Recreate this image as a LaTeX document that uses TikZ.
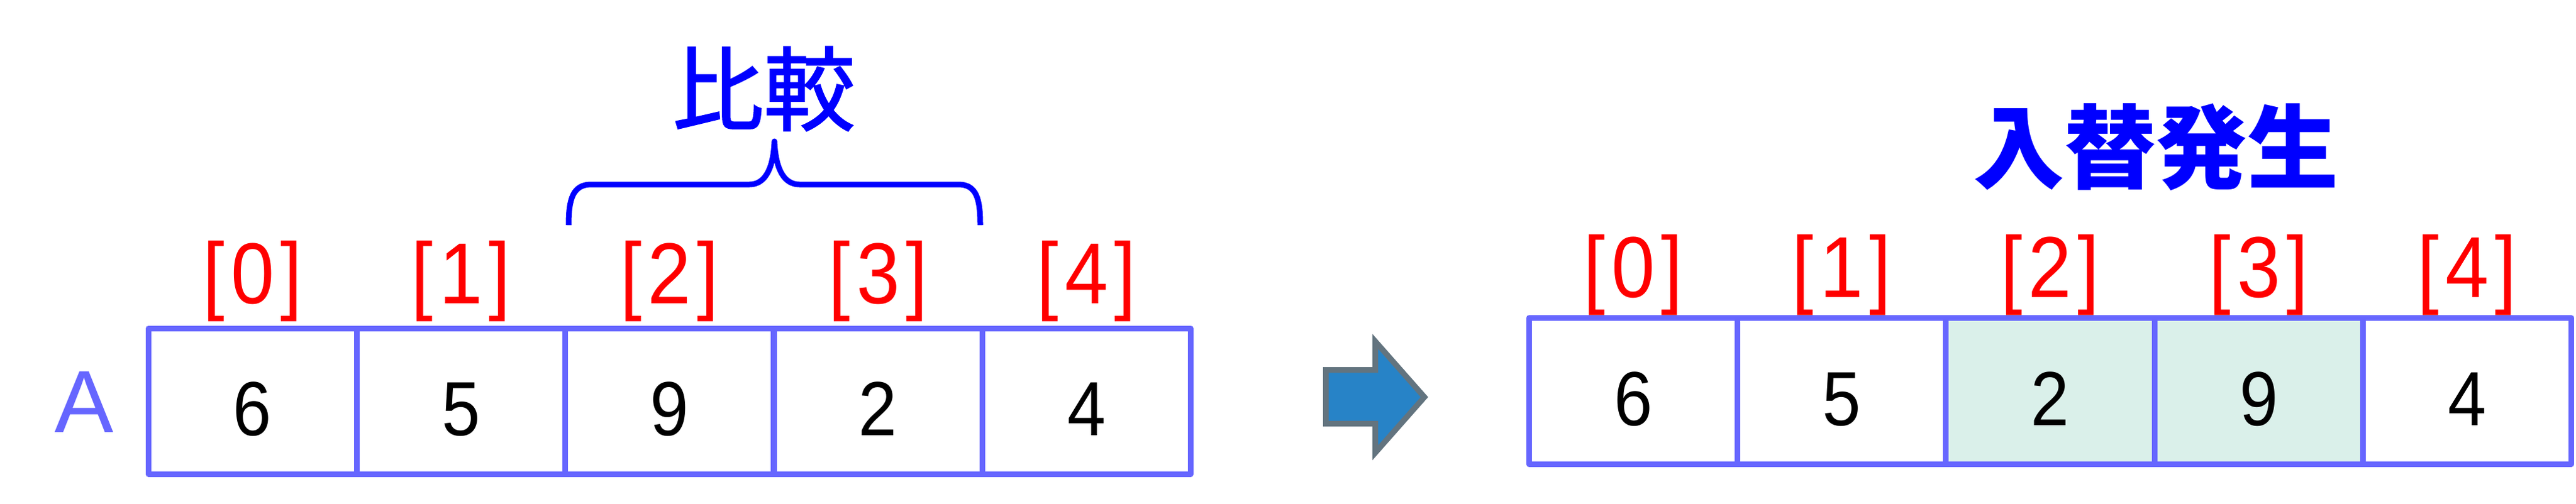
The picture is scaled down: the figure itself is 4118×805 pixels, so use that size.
\documentclass[tikz,border=0pt]{standalone}
\usepackage{fontspec}
\setmainfont{Liberation Sans}
\newfontfamily\digitfont[FakeStretch=0.9]{Liberation Sans}
\newfontfamily\jpfont{Noto Sans CJK JP}
\newfontfamily\jpmed[FakeBold=1.5]{Noto Sans CJK JP}
\definecolor{gridblue}{HTML}{6666FF}
\definecolor{swapgreen}{HTML}{DAF0EA}
\definecolor{arrowfill}{HTML}{2783C7}
\definecolor{arrowedge}{HTML}{63747F}
\tikzset{
  cell/.style={draw=gridblue, line width=2.25pt, minimum width=83.33pt, inner sep=0pt,
    text height=27.5pt, text depth=0pt, font=\digitfont\fontsize{30.7}{36}\selectfont, line join=round},
  swapcell/.style={cell, fill=swapgreen},
  idx/.style={text=red, anchor=base, inner sep=0pt, font=\digitfont\fontsize{34.6}{40}\selectfont},
  title/.style={text=blue, inner sep=0pt, font=\jpmed\fontsize{36.5}{44}\selectfont},
  bracestyle/.style={draw=blue, line width=2.25pt, line cap=butt, line join=round},
}
\begin{document}
\begin{tikzpicture}[x=0.25pt, y=-0.25pt]
\useasboundingbox (0,0) rectangle (4118,805);
% left array
\node[text=gridblue, anchor=base, inner sep=0pt, font=\fontsize{35.3}{42}\selectfont] (alabel) at (135,691) {A};
\begin{scope}[every node/.append style={minimum height=58.25pt}]
\node[cell] (l0) at (403.7,641.5) {6};
\node[cell] (l1) at (737,641.5) {5};
\node[cell] (l2) at (1070.3,641.5) {9};
\node[cell] (l3) at (1403.7,641.5) {2};
\node[cell] (l4) at (1737,641.5) {4};
\end{scope}
\node[idx] (li0) at (403.7,485) {[\kern2.5pt0\kern2.5pt]};
\node[idx] (li1) at (737,485) {[\kern2.5pt1\kern2.5pt]};
\node[idx] (li2) at (1070.3,485) {[\kern2.5pt2\kern2.5pt]};
\node[idx] (li3) at (1403.7,485) {[\kern2.5pt3\kern2.5pt]};
\node[idx] (li4) at (1737,485) {[\kern2.5pt4\kern2.5pt]};
% brace and comparison label
\draw[bracestyle] (909,360) .. controls (909,318) and (916,295) .. (945,295)
  -- (1198,295) .. controls (1222,295) and (1236,272) .. (1238,226)
  .. controls (1240,272) and (1254,295) .. (1278,295)
  -- (1532,295) .. controls (1561,295) and (1567,318) .. (1567,360);
\node[title] (cmp) at (1221,142) {比較};
% arrow
\draw[fill=arrowfill, draw=arrowedge, line width=2.25pt, line join=miter]
  (2119.5,591.5) -- (2198.5,591.5) -- (2198.5,546) -- (2277,635) -- (2198.5,724)
  -- (2198.5,677.5) -- (2119.5,677.5) -- cycle;
% right array
\begin{scope}[every node/.append style={minimum height=58.5pt}]
\node[cell] (r0) at (2610.7,625) {6};
\node[cell] (r1) at (2944,625) {5};
\node[cell] (r4) at (3944,625) {4};
\node[swapcell] (r2) at (3277.3,625) {2};
\node[swapcell] (r3) at (3610.7,625) {9};
\end{scope}
\node[idx] (ri0) at (2610.7,475) {[\kern2.5pt0\kern2.5pt]};
\node[idx] (ri1) at (2944,475) {[\kern2.5pt1\kern2.5pt]};
\node[idx] (ri2) at (3277.3,475) {[\kern2.5pt2\kern2.5pt]};
\node[idx] (ri3) at (3610.7,475) {[\kern2.5pt3\kern2.5pt]};
\node[idx] (ri4) at (3944,475) {[\kern2.5pt4\kern2.5pt]};
\node[title, font=\jpfont\bfseries\fontsize{36.5}{44}\selectfont] (swp) at (3446,235) {入替発生};
\end{tikzpicture}
\end{document}
